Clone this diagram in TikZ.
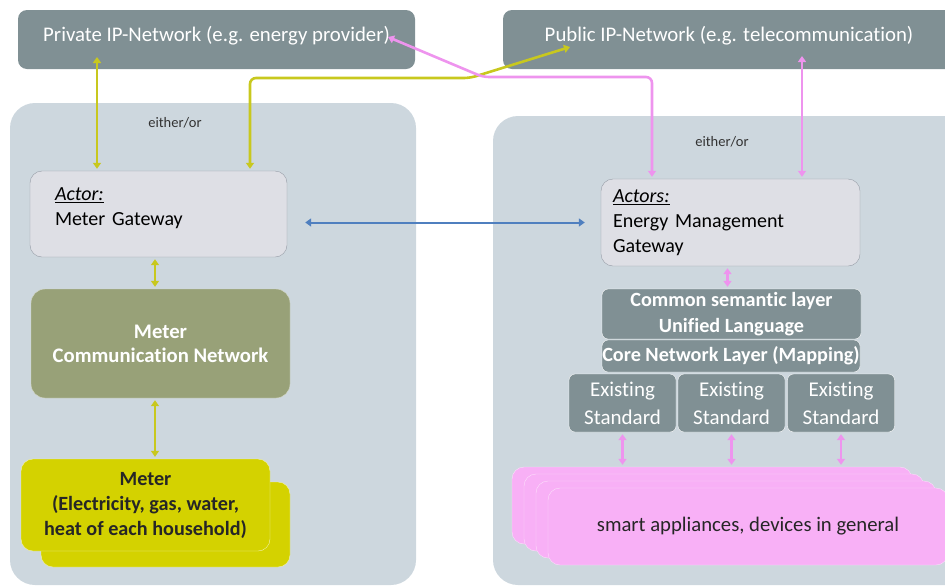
\documentclass[tikz,border=0pt]{standalone}
\usepackage{fontspec}
\setmainfont{Carlito}[Ligatures=NoCommon]
\usetikzlibrary{arrows.meta,positioning}
\definecolor{netgray}{RGB}{128,144,148}
\definecolor{panelbg}{RGB}{205,215,222}
\definecolor{gwfill}{RGB}{222,223,229}
\definecolor{gwline}{RGB}{150,156,166}
\definecolor{olivebox}{RGB}{152,161,120}
\definecolor{ylwfill}{RGB}{212,210,0}
\definecolor{ylwline}{RGB}{200,200,30}
\definecolor{pinkfill}{RGB}{248,176,246}
\definecolor{pinkline}{RGB}{238,148,238}
\definecolor{blueline}{RGB}{79,127,191}
\tikzset{
	net/.style={fill=netgray,rounded corners=9pt,text=white,minimum height=59pt,text depth=12pt,font=\fontsize{20.8}{24}\selectfont},
	pnl/.style={fill=panelbg,rounded corners=25pt},
	small/.style={font=\fontsize{14.5}{16}\selectfont,text=black!80},
	gw/.style={draw=gwline,fill=gwfill,rounded corners=12pt,align=left,font=\fontsize{20}{25}\selectfont},
	layer/.style={draw=white,fill=netgray,rounded corners=6pt,text=white,align=center,inner sep=0pt},
	meter/.style={draw=white!70!ylwfill,fill=ylwfill,rounded corners=12pt,minimum width=249pt},
	appl/.style={draw=white!60!pinkfill,fill=pinkfill,rounded corners=12pt,minimum width=400pt,minimum height=77pt},
	tip/.style={{Triangle[width=8pt,length=6pt]}-{Triangle[width=8pt,length=6pt]}},
	ylw/.style={tip,draw=ylwline,line width=2.6pt,shorten >=2pt},
	pnk/.style={tip,draw=pinkline,line width=2.6pt,shorten >=2pt},
	blu/.style={tip,draw=blueline,line width=2pt}
}
\begin{document}
\begin{tikzpicture}[x=1pt,y=-1pt]
\useasboundingbox (0,0) rectangle (945,587);
\clip (0,0) rectangle (945,587);
\node[net,minimum width=397pt] (privnet) at (216.5,39.5) {Private IP-Network (e.g. energy provider)};
\node[net,minimum width=452pt] (pubnet) at (729,39.5) {Public IP-Network (e.g. telecommunication)};
\node[pnl,minimum width=406pt,minimum height=482pt] (lpanel) at (213,344) {};
\node[pnl,minimum width=482pt,minimum height=469pt] (rpanel) at (734,350.5) {};
\node[small] (eo1) at (175,123) {either/or};
\node[small] (eo2) at (722,142) {either/or};

\node[gw,minimum width=257pt,minimum height=86pt,text width=207pt,text depth=39pt] (mg) at (158.5,214) {\underline{\textit{Actor:}}\\Meter Gateway};
\node[fill=olivebox,draw=white!60!olivebox,rounded corners=14pt,minimum width=259pt,minimum height=109pt,text=white,align=center,font=\bfseries\fontsize{20.7}{24}\selectfont] (mcn) at (160.5,343.5) {Meter\\Communication Network};
\node[meter,minimum height=85pt] (meterb) at (165.5,524.5) {};
\node[meter,minimum height=92pt,align=center,font=\bfseries\fontsize{20.2}{25}\selectfont,text=black!85] (meter) at (145.5,505) {Meter\\(Electricity, gas, water,\\heat of each household)};

\node[gw,minimum width=259pt,minimum height=87pt,text width=235pt,yshift=0pt] (emg) at (730.5,222.5) {\underline{\textit{Actors:}}\\Energy Management\\Gateway};
\node[layer,minimum width=259pt,minimum height=50pt,font=\bfseries\fontsize{20.2}{26}\selectfont] (csl) at (731.5,314) {Common semantic layer\\Unified Language};
\node[layer,minimum width=258pt,minimum height=32pt,font=\bfseries\fontsize{20.2}{22}\selectfont] (cnl) at (731,356) {Core Network Layer (Mapping)};
\node[layer,minimum width=107pt,minimum height=58pt,font=\fontsize{21}{28}\selectfont] (es1) at (622.5,403) {Existing\\Standard};
\node[layer,minimum width=107pt,minimum height=58pt,font=\fontsize{21}{28}\selectfont] (es2) at (731.5,403) {Existing\\Standard};
\node[layer,minimum width=107pt,minimum height=58pt,font=\fontsize{21}{28}\selectfont] (es3) at (841,403) {Existing\\Standard};

\node[appl] (app1) at (712,505.5) {};
\node[appl] (app2) at (724,512.5) {};
\node[appl] (app3) at (736,519.5) {};
\node[appl,font=\fontsize{20.7}{24}\selectfont,text=black!85] (app4) at (748,526.5) {smart appliances, devices in general};

\coordinate (pv1) at (97,57);
\coordinate (pb1) at (570,47);
\coordinate (yb) at (470,78);
\coordinate (pv2) at (388,37);
\coordinate (pk) at (483,77);
\coordinate (pb2) at (802,56);

\draw[ylw] (pv1) -- (pv1 |- mg.north);
\draw[ylw,rounded corners=6pt] (pb1) -- (yb) -| ([xshift=91.5pt]mg.north);
\draw[pnk,rounded corners=6pt] (pv2) -- (pk) -| ([xshift=-78.5pt]emg.north);
\draw[pnk] (pb2) -- (pb2 |- emg.north);
\draw[blu] ([xshift=18pt]mg.east |- emg.west) -- ([xshift=-16pt]emg.west);
\draw[ylw,shorten <=2pt] ([xshift=-3.5pt]mg.south) -- ([xshift=-3.5pt]mg.south |- mcn.north);
\draw[ylw,shorten <=2pt] ([xshift=-5.5pt]mcn.south) -- ([xshift=-5.5pt]mcn.south |- meter.north);
\draw[pnk,shorten <=2pt] ([xshift=-3pt]emg.south) -- ([xshift=-3pt]emg.south |- csl.north);
\draw[pnk,shorten <=2pt] (es1.south) -- (es1.south |- app1.north);
\draw[pnk,shorten <=2pt] (es2.south) -- (es2.south |- app1.north);
\draw[pnk,shorten <=2pt] (es3.south) -- (es3.south |- app1.north);
\end{tikzpicture}
\end{document}
